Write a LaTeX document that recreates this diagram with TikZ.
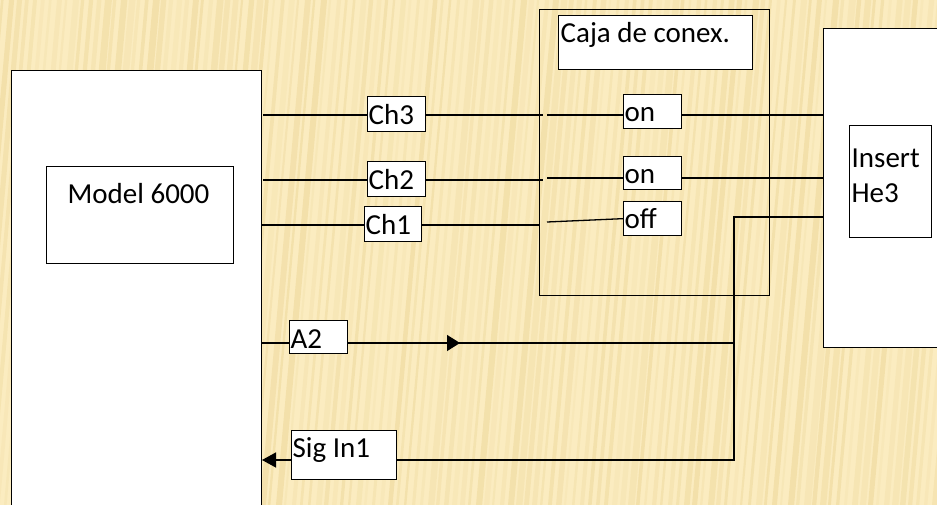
\documentclass[tikz,border=0pt]{standalone}
\usepackage{fontspec}
\setmainfont{Carlito}
\usetikzlibrary{arrows.meta}
\definecolor{bgyellow}{RGB}{251,236,192}
\definecolor{stripe}{RGB}{232,208,140}
\tikzset{
  box/.style={draw, fill=white, anchor=north west, inner sep=0pt},
  tag/.style={anchor=base west, inner sep=0pt, font=\fontsize{29}{35}\selectfont},
  tip/.style={-{Triangle[length=13pt,width=16pt]}}
}
% box from its top left corner (#2,#3) to its bottom right corner (#4,#5)
\newcommand{\tagbox}[5]{
  \pgfmathsetmacro\boxw{#4-#2}
  \pgfmathsetmacro\boxh{#5-#3}
  \node [box, minimum width=\boxw pt, minimum height=\boxh pt] (#1) at (#2,#3) {};
}
\newcommand{\tagtext}[4]{
  \node [tag] (#1) at (#2,#3) {#4};
}

\begin{document}
\begin{tikzpicture}[x=1pt, y=-1pt, line width=1.3pt]
\useasboundingbox (0,0) rectangle (937,505);
\clip (0,0) rectangle (937,505);
% background
\fill [bgyellow] (0,0) rectangle (937,505);
\pgfmathsetseed{7}
\foreach \x in {-60,-52,...,940}{
  \pgfmathsetmacro\sw{2+5*rnd}
  \pgfmathsetmacro\op{0.12+0.3*rnd}
  \fill [stripe, opacity=\op] (\x,505) -- ++(\sw,0) -- ++(45,-505) -- ++(-\sw,0) -- cycle;
}
% big boxes
\tagbox{model}{11}{70}{261}{530}
\tagbox{modelin}{46}{166}{233}{263}
\tagtext{modeltxt}{67}{204}{Model 6000}
\node [draw, anchor=north west, inner sep=0pt, minimum width=230pt, minimum height=286pt] (caja) at (539,9) {};
\tagbox{cajatitle}{558}{15}{752}{69}
\tagtext{cajatxt}{560}{43}{Caja de conex.}
\tagbox{ins}{823}{28}{960}{347}
\tagbox{insin}{849}{125}{931}{237}
\tagtext{instxt}{851}{168}{Insert}
\tagtext{hetxt}{851}{203}{He3}
% channel boxes
\tagbox{ch3}{367}{96}{425}{131}
\tagtext{ch3txt}{368}{125}{Ch3}
\tagbox{ch2}{367}{161}{425}{196}
\tagtext{ch2txt}{368}{190}{Ch2}
\tagbox{ch1}{364}{206}{421}{241}
\tagtext{ch1txt}{365}{234}{Ch1}
\tagbox{on1}{623}{94}{681}{128}
\tagtext{on1txt}{624}{122}{on}
\tagbox{on2}{623}{156}{681}{189}
\tagtext{on2txt}{624}{184}{on}
\tagbox{off}{623}{201}{681}{235}
\tagtext{offtxt}{624}{229}{off}
\tagbox{a2}{289}{320}{347}{353}
\tagtext{a2txt}{290}{348}{A2}
\tagbox{sig}{291}{430}{396}{479}
\tagtext{sigtxt}{292}{457}{Sig In1}
% wire ends
\coordinate (r3) at (263,115);
\coordinate (r2) at (263,180);
\coordinate (r1) at (262,225);
\coordinate (ra) at (262,343);
\coordinate (rs) at (262,460);
\coordinate (g3) at (543,115);
\coordinate (h3) at (547,115);
\coordinate (g2) at (543,180);
\coordinate (h2) at (547,178);
\coordinate (h1) at (547,222);
\coordinate (jn) at (734,217);
\coordinate (atip) at (460,343);
% Ch3
\draw (r3) -- (r3 -| ch3.west);
\draw (r3 -| ch3.east) -- (g3);
\draw (h3) -- (h3 -| on1.west);
\draw (h3 -| on1.east) -- (h3 -| ins.west);
% Ch2
\draw (r2) -- (r2 -| ch2.west);
\draw (r2 -| ch2.east) -- (g2);
\draw (h2) -- (h2 -| on2.west);
\draw (h2 -| on2.east) -- (h2 -| ins.west);
% Ch1
\draw (r1) -- (r1 -| ch1.west);
\draw (r1 -| ch1.east) -- (r1 -| caja.west);
\draw (h1) -- (off.west);
% A2 and Sig In1
\draw (ra) -- (ra -| a2.west);
\draw (ra -| a2.east) -- (ra -| jn);
\draw [tip] (ra -| a2.east) -- (atip);
\draw (jn -| ins.west) -- (jn) |- (rs -| sig.east);
\draw [-{Triangle[length=14pt,width=15pt]}] (rs -| sig.west) -- (rs);
\end{tikzpicture}
\end{document}
